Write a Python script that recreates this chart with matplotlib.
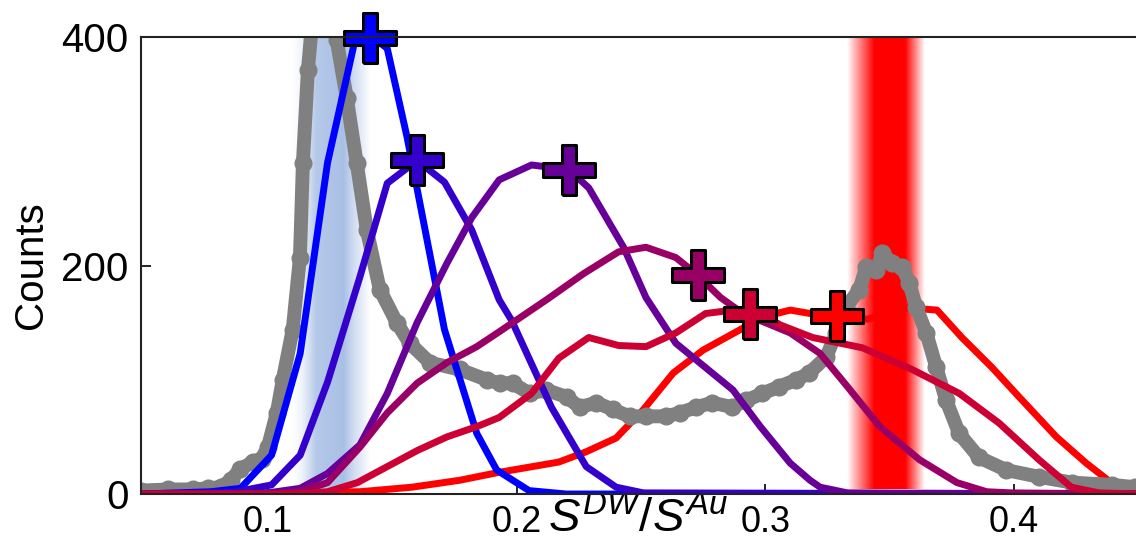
import matplotlib
matplotlib.use("Agg")
import matplotlib.pyplot as plt
import numpy as np

plt.rcParams['font.family'] = ['Liberation Sans', 'DejaVu Sans']
plt.rcParams['mathtext.fontset'] = 'custom'
plt.rcParams['mathtext.rm'] = 'Liberation Sans'
plt.rcParams['mathtext.it'] = 'Liberation Sans:italic'

# histogram de referencia (gris)
gray_x = [0.049, 0.06, 0.07, 0.076, 0.081, 0.085, 0.089, 0.094, 0.0975, 0.100, 0.1036, 0.106,
          0.110, 0.1129, 0.1141, 0.1161, 0.1181, 0.121, 0.124, 0.1277, 0.1317, 0.1357, 0.1398,
          0.145, 0.1518, 0.157, 0.1651, 0.1771, 0.188, 0.1932, 0.1984, 0.2052, 0.212, 0.2201,
          0.2253, 0.2321, 0.2386, 0.2454, 0.2522, 0.2602, 0.2655, 0.2723, 0.2787, 0.2867,
          0.2924, 0.2988, 0.3056, 0.3124, 0.3177, 0.3245, 0.3285, 0.3325, 0.3378, 0.3406,
          0.3446, 0.347, 0.351, 0.355, 0.3578, 0.3606, 0.3647, 0.3687, 0.3727, 0.3779,
          0.3859, 0.3968, 0.4101, 0.4233, 0.4394, 0.4486]
gray_y = [3, 4, 4, 5, 6, 12, 22, 28, 31, 41, 71, 100,
          144, 207, 290, 371, 420, 470, 450, 397, 347, 290, 231,
          179, 150, 132, 115, 109, 100, 97, 97, 88, 91, 85,
          76, 80, 74, 68, 68, 68, 71, 76, 80, 76,
          82, 88, 94, 100, 106, 120, 141, 164, 179, 199,
          196, 211, 202, 199, 185, 164, 141, 111, 82, 53,
          32, 21, 15, 10, 8, 6]

blue_x = [0.049, 0.077, 0.089, 0.1015, 0.113, 0.124, 0.135, 0.141, 0.148, 0.156, 0.171,
          0.184, 0.192, 0.205, 0.22, 0.45]
blue_y = [0, 2, 5, 34, 123, 290, 397, 402, 390, 312, 144, 53, 21, 3, 0, 0]

indigo_x = [0.049, 0.085, 0.1015, 0.113, 0.124, 0.137, 0.148, 0.160, 0.171, 0.182, 0.193,
            0.198, 0.214, 0.228, 0.240, 0.251, 0.45]
indigo_y = [0, 1, 8, 34, 98, 190, 272, 292, 273, 231, 170, 152, 76, 24, 6, 1, 0]

purple_x = [0.049, 0.10, 0.113, 0.124, 0.137, 0.148, 0.160, 0.172, 0.182, 0.193, 0.206,
            0.221, 0.229, 0.243, 0.252, 0.264, 0.287, 0.298, 0.310, 0.318, 0.322, 0.333, 0.45]
purple_y = [0, 1, 5, 18, 43, 88, 150, 202, 242, 275, 288, 284, 268, 216, 172, 132, 91, 59,
            27, 12, 6, 1, 0]

magenta_x = [0.049, 0.10, 0.113, 0.124, 0.137, 0.148, 0.160, 0.172, 0.184, 0.193, 0.212,
             0.227, 0.241, 0.252, 0.264, 0.272, 0.282, 0.291, 0.300, 0.310, 0.322, 0.333,
             0.346, 0.362, 0.377, 0.389, 0.399, 0.45]
magenta_y = [0, 0, 2, 10, 41, 71, 97, 115, 129, 142, 170, 193, 212, 216, 207, 193, 172, 158,
             150, 141, 123, 94, 59, 30, 10, 2, 1, 0]

crimson_x = [0.049, 0.11, 0.124, 0.136, 0.148, 0.160, 0.172, 0.184, 0.193, 0.206, 0.217,
             0.229, 0.241, 0.252, 0.264, 0.276, 0.287, 0.299, 0.306, 0.319, 0.339, 0.359,
             0.378, 0.394, 0.410, 0.423, 0.434, 0.45]
crimson_y = [0, 0, 2, 10, 24, 38, 50, 59, 67, 88, 119, 137, 130, 129, 141, 158, 161, 157, 148,
             137, 128, 109, 88, 62, 30, 6, 1, 0]

red_x = [0.049, 0.113, 0.137, 0.158, 0.177, 0.193, 0.217, 0.228, 0.240, 0.251, 0.263, 0.275,
         0.290, 0.299, 0.310, 0.318, 0.330, 0.341, 0.357, 0.369, 0.379, 0.391, 0.402, 0.417,
         0.429, 0.439, 0.449]
red_y = [0, 1, 2, 6, 12, 19, 28, 37, 49, 74, 106, 126, 144, 155, 161, 158, 156, 153, 163, 161,
         137, 111, 85, 50, 27, 10, 1]

# posicion de las cruces (valor medio de cada curva)
mark_x = [0.141, 0.160, 0.221, 0.273, 0.294, 0.329]
mark_y = [399, 292, 284, 192, 158, 156]

colors = [(0.0, 0.0, 1.0), (0.2, 0.0, 0.8), (0.4, 0.0, 0.6),
          (0.6, 0.0, 0.4), (0.8, 0.0, 0.2), (1.0, 0.0, 0.0)]

# bandas sombreadas
blue_band = (0.110, 0.141)
red_band = (0.333, 0.364)

fig = plt.figure(figsize=(11.36, 5.51), dpi=100)
ax = fig.add_axes([0.1241, 0.1034, 0.8759, 0.8294])


def band(ax, lims, rgb, prof_x, prof_a, z):
    n = 200
    t = np.linspace(0, 1, n)
    a = np.interp(t, prof_x, prof_a)
    img = np.zeros((1, n, 4))
    img[0, :, :3] = rgb
    img[0, :, 3] = a
    ax.imshow(img, extent=[lims[0], lims[1], 4, 400], aspect='auto',
              interpolation='bilinear', zorder=z)


band(ax, blue_band, (0.66, 0.75, 0.90), [0, 0.12, 0.3, 0.65, 0.78, 1.0],
     [0.0, 0.2, 0.85, 1.0, 0.55, 0.0], 1)
band(ax, red_band, (1.0, 0.0, 0.0), [0, 0.1, 0.35, 0.75, 0.9, 1.0],
     [0.0, 0.3, 1.0, 1.0, 0.4, 0.0], 2.5)

ax.plot(gray_x, gray_y, color='#808080', lw=10, marker='o', ms=12,
        solid_joinstyle='round', solid_capstyle='round', zorder=2.7)

series = [(blue_x, blue_y), (indigo_x, indigo_y), (purple_x, purple_y),
          (magenta_x, magenta_y), (crimson_x, crimson_y), (red_x, red_y)]
for i, ((xs, ys), c) in enumerate(zip(series, colors)):
    # la curva roja queda debajo de la banda roja
    z = 2.2 if i == 5 else 3 + i * 0.01
    ax.plot(xs, ys, color=c, lw=5, solid_joinstyle='round', zorder=z)

a = 0.13
v = 0.47
plus = [(-a, -v), (a, -v), (a, -a), (0.5, -a), (0.5, a), (a, a), (a, v), (-a, v),
        (-a, a), (-0.5, a), (-0.5, -a), (-a, -a), (-a, -v)]
for mx, my, c in zip(mark_x, mark_y, colors):
    ax.plot([mx], [my], marker=plus, ms=38, mfc=c, mec='black', mew=2.2,
            ls='none', zorder=5, clip_on=False)

ax.set_xlim(0.049, 0.449)
ax.set_ylim(0, 400)
ax.set_xticks([0.1, 0.2, 0.3, 0.4])
ax.set_xticklabels(['0.1', '0.2', '0.3', '0.4'])
ax.set_yticks([0, 200, 400])
ax.tick_params(axis='x', direction='in', length=7, width=1.2, labelsize=26, pad=8)
ax.tick_params(axis='y', direction='in', length=7, width=1.2, labelsize=29, pad=9)
ax.spines['right'].set_visible(False)
for s in ['left', 'top', 'bottom']:
    ax.spines[s].set_linewidth(1.5)
    ax.spines[s].set_color('#222222')
    ax.spines[s].set_zorder(6)

ax.set_xlabel(r'$S^{DW}/S^{Au}$', fontsize=34, labelpad=-31)
ax.set_ylabel('Counts', fontsize=29, labelpad=8)

fig.savefig('out.png', dpi=100)
